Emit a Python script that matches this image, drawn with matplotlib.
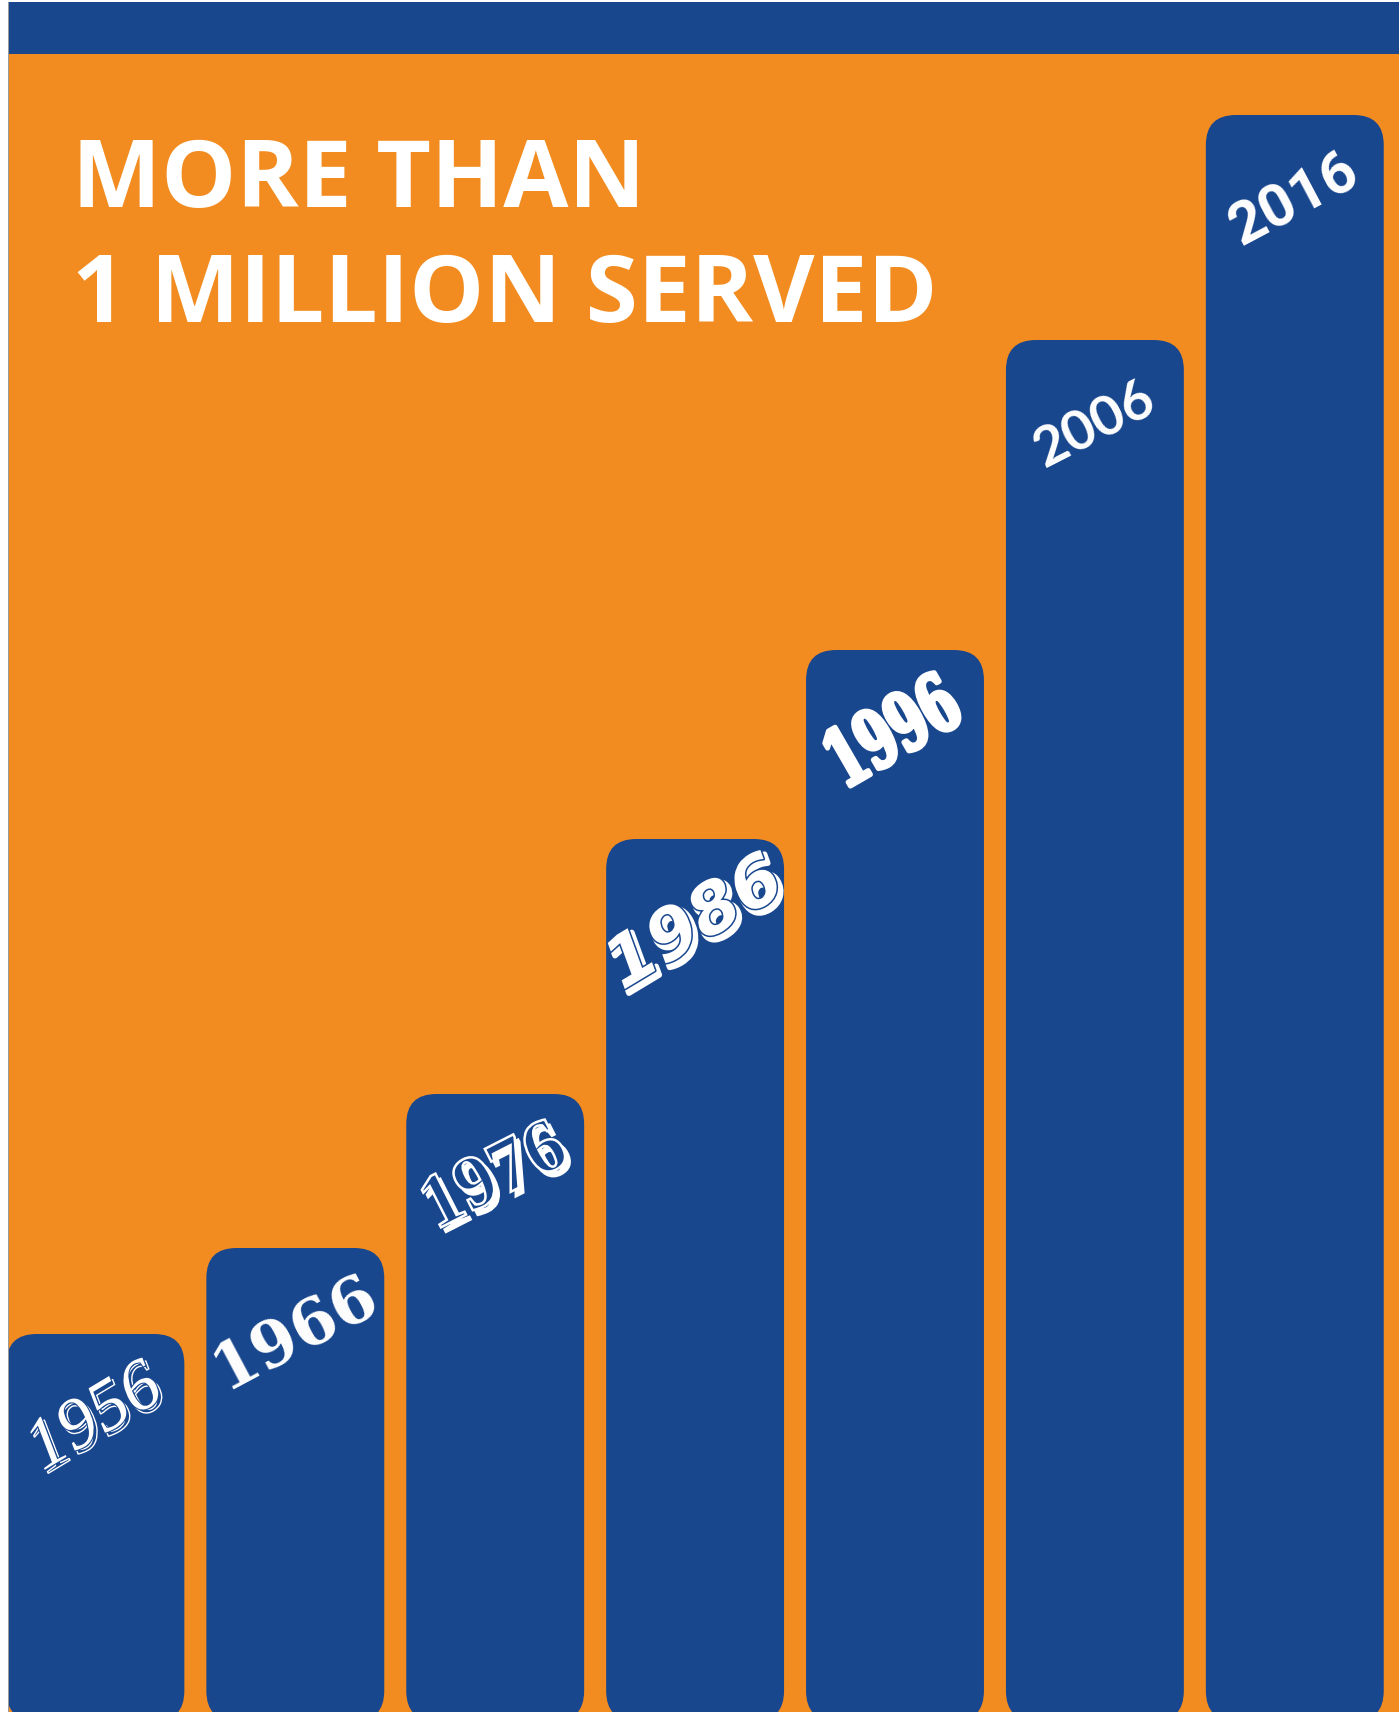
import matplotlib
matplotlib.use("Agg")
import matplotlib.pyplot as plt
import matplotlib.patheffects as pe
from matplotlib.patches import FancyBboxPatch, Rectangle
from matplotlib.transforms import Affine2D

# ---------------------------------------------------------------------------
# data (bar heights in arbitrary units, ~px above the base)
years = ["1956", "1966", "1976", "1986", "1996", "2006", "2016"]
served = [387, 473, 627, 882, 1071, 1381, 1606]
title_lines = ["MORE THAN", "1 MILLION SERVED"]

BLUE = "#19478E"
ORANGE = "#F28C20"
W, H = 1399, 1712          # output size in px
LEFT, HEAD_TOP, HEAD_BOT = 9, 2, 54

# one style per year label: font, size, rotation, effect
label_styles = [
    dict(family="Liberation Serif", style="italic", size=52, rot=31, fx="engraved"),
    dict(family="DejaVu Serif", weight="bold", size=46, rot=28, fx=None),
    dict(family="Liberation Serif", weight="bold", size=55, rot=27, fx="3d"),
    dict(family="DejaVu Sans", weight="bold", style="italic", size=50, rot=31, fx="graffiti"),
    dict(family="DejaVu Serif", weight="bold", size=57, rot=30, fx="narrow"),
    dict(family="Lato", weight="bold", size=40, rot=27, fx=None),
    dict(family="Roboto", weight="bold", size=43, rot=28, fx=None),
]


class Squeeze(pe.AbstractPathEffect):
    """draw the glyphs narrower along the baseline (kept centred), with a fat outline"""
    def __init__(self, sx, lw):
        super().__init__()
        self.sx = sx
        self.lw = lw

    def draw_path(self, renderer, gc, tpath, affine, rgbFace=None):
        xs = tpath.vertices[:, 0]
        cx = (xs.min() + xs.max()) / 2
        squeeze = Affine2D().translate(-cx, 0).scale(self.sx, 1).translate(cx, 0)
        gc0 = renderer.new_gc()
        gc0.copy_properties(gc)
        gc0.set_linewidth(self.lw)
        gc0.set_foreground("white")
        renderer.draw_path(gc0, tpath, squeeze + affine, rgbFace)
        gc0.restore()


def effects(kind):
    if kind == "engraved":
        return [pe.PathPatchEffect(offset=(2.5, -2.5), facecolor=BLUE, edgecolor="white", linewidth=1.0),
                pe.Stroke(linewidth=1.5, foreground=BLUE), pe.Normal()]
    if kind == "3d":
        return [pe.PathPatchEffect(offset=(3.5, -3.5), facecolor="white", edgecolor="white", linewidth=1.5),
                pe.PathPatchEffect(facecolor=BLUE, edgecolor="white", linewidth=1.8)]
    if kind == "graffiti":
        return [pe.Stroke(offset=(3, -3), linewidth=4, foreground="white"),
                pe.Stroke(linewidth=2.2, foreground=BLUE), pe.Normal()]
    if kind == "narrow":
        return [Squeeze(0.64, 3.5)]
    return None


#----------------------------------------------------------------------------
fig = plt.figure(figsize=(W / 100, H / 100), dpi=100, facecolor="white")

# header band
fig.add_artist(Rectangle((LEFT / W, 1 - HEAD_BOT / H), 1 - LEFT / W, (HEAD_BOT - HEAD_TOP) / H,
                         transform=fig.transFigure, facecolor=BLUE, edgecolor="none"))
# thin grey border at the left edge
fig.add_artist(Rectangle(((LEFT - 1) / W, 0), 1 / W, 1 - HEAD_TOP / H,
                         transform=fig.transFigure, facecolor="#9a9a9a", edgecolor="none"))

ax = fig.add_axes([LEFT / W, 0, 1 - LEFT / W, 1 - HEAD_BOT / H])
ax.set_facecolor(ORANGE)
step = 199.9                       # px per category
first = 95.4                       # px centre of the first bar
ax.set_xlim((LEFT - first) / step, (W - first) / step)
ax.set_ylim(9, 9 + (H - HEAD_BOT))
ax.axis("off")
ax.add_patch(Rectangle((0, 0), 1, 1, transform=ax.transAxes, facecolor=ORANGE, edgecolor="none", zorder=0))

bars = ax.bar(range(len(years)), served, width=0.89, alpha=0)
radius = 0.15
aspect = 30 / radius
for rect in bars:
    ax.add_patch(FancyBboxPatch(rect.get_xy(), rect.get_width(), rect.get_height(),
                                boxstyle=f"round,pad=0,rounding_size={radius}",
                                mutation_aspect=aspect, facecolor=BLUE, edgecolor="none", zorder=2))

for i, (yr, val, st) in enumerate(zip(years, served, label_styles)):
    t = ax.text(i, val - 85, yr, color="white", ha="center", va="center",
                rotation=st["rot"], rotation_mode="anchor",
                family=st["family"], fontsize=st["size"],
                fontweight=st.get("weight", "normal"), fontstyle=st.get("style", "normal"),
                zorder=3)
    fx = effects(st["fx"])
    if fx:
        t.set_path_effects(fx)

# title
for k, line in enumerate(title_lines):
    fig.text(72 / W, 1 - (207 + 115 * k) / H, line, color="white", fontsize=68,
             family="Open Sans", fontweight="bold", va="baseline", ha="left")

fig.savefig("out.png", dpi=100, facecolor="white")
